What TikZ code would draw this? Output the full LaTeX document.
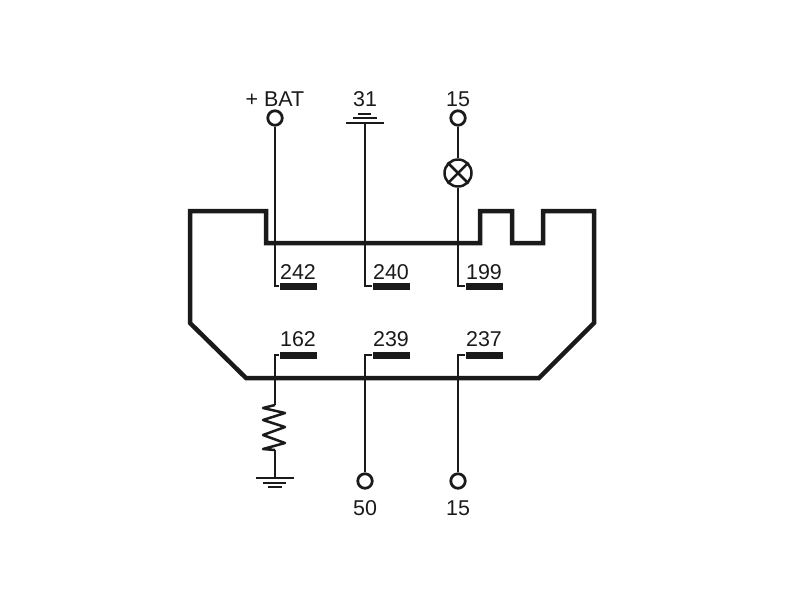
\documentclass[tikz,border=0pt]{standalone}
\usepackage{fontspec}
\setmainfont{Liberation Sans}
\definecolor{ink}{HTML}{1A1A1A}
\tikzset{
	wire/.style = {draw = ink, line width = 0.05cm},
	housing/.style = {draw = ink, line width = 0.09cm, line join = miter},
	terminal/.style = {draw = ink, shape = circle, line width = 0.055cm,
					   fill = white, inner sep = 0pt, minimum size = 0.29cm},
	lamp/.style = {draw = ink, shape = circle, line width = 0.05cm,
				   fill = white, inner sep = 0pt, minimum size = 0.54cm},
	pin/.style = {fill = ink, shape = rectangle, inner sep = 0pt,
				  minimum width = 0.74cm, minimum height = 0.14cm},
	lbl/.style = {text = ink, inner sep = 0pt, font = \fontsize{12.2pt}{14pt}\selectfont}
}
\begin{document}
\begin{tikzpicture}[x = 0.02cm, y = -0.02cm]
	\useasboundingbox (0, 0) rectangle (800, 600);

	% housing
	\draw[housing] (190, 211) -- (266, 211) -- (266, 243) -- (480, 243) -- (480, 211)
		-- (512, 211) -- (512, 243) -- (543, 243) -- (543, 211) -- (594, 211)
		-- (594, 323) -- (539, 378) -- (246, 378) -- (190, 323) -- cycle;

	% pins
	\draw (298, 286) node[pin](P242){};
	\draw (391, 286) node[pin](P240){};
	\draw (484, 286) node[pin](P199){};
	\draw (298, 355) node[pin](P162){};
	\draw (391, 355) node[pin](P239){};
	\draw (484, 355) node[pin](P237){};

	\draw (298, 272) node[lbl](L242){242};
	\draw (391, 272) node[lbl](L240){240};
	\draw (484, 272) node[lbl](L199){199};
	\draw (298, 339) node[lbl](L162){162};
	\draw (391, 339) node[lbl](L239){239};
	\draw (484, 339) node[lbl](L237){237};

	% terminals
	\draw (275, 118) node[terminal](BAT){};
	\draw (458, 118) node[terminal](T15){};
	\draw (365, 481) node[terminal](T50){};
	\draw (458, 481) node[terminal](B15){};
	\draw (458, 173) node[lamp](LAMP){};

	\draw (275, 99) node[lbl](LBAT){+ BAT};
	\draw (365, 99) node[lbl](L31){31};
	\draw (458, 99) node[lbl](LT15){15};
	\draw (365, 508) node[lbl](L50){50};
	\draw (458, 508) node[lbl](LB15){15};

	\coordinate (GT) at (365, 123);
	\coordinate (GB) at (275, 478);
	\coordinate (RT) at (275, 405);
	\coordinate (RB) at (275, 450);

	% wires
	\draw[wire] (BAT) |- (P242);
	\draw[wire] (GT) |- (P240);
	\draw[wire] (T15) -- (LAMP);
	\draw[wire] (LAMP) |- (P199);
	\draw[wire] (T50) |- (P239);
	\draw[wire] (B15) |- (P237);
	\draw[wire] (P162) -| (RT);
	\draw[wire] (RB) -- (GB);

	% lamp cross
	\draw[wire] (LAMP.north west) -- (LAMP.south east);
	\draw[wire] (LAMP.north east) -- (LAMP.south west);

	% resistor
	\draw[wire, line join = round] (RT) -- (263, 408) -- (285, 413) -- (263, 420) -- (285, 427)
		-- (263, 435) -- (285, 443) -- (263, 449) -- (RB);

	% grounds
	\draw[wire] (346, 123) -- (384, 123);
	\draw[wire] (353, 118) -- (377, 118);
	\draw[wire] (358, 114) -- (371, 114);
	\draw[wire] (256, 478) -- (294, 478);
	\draw[wire] (263, 483) -- (286, 483);
	\draw[wire] (268, 487) -- (282, 487);
\end{tikzpicture}
\end{document}
